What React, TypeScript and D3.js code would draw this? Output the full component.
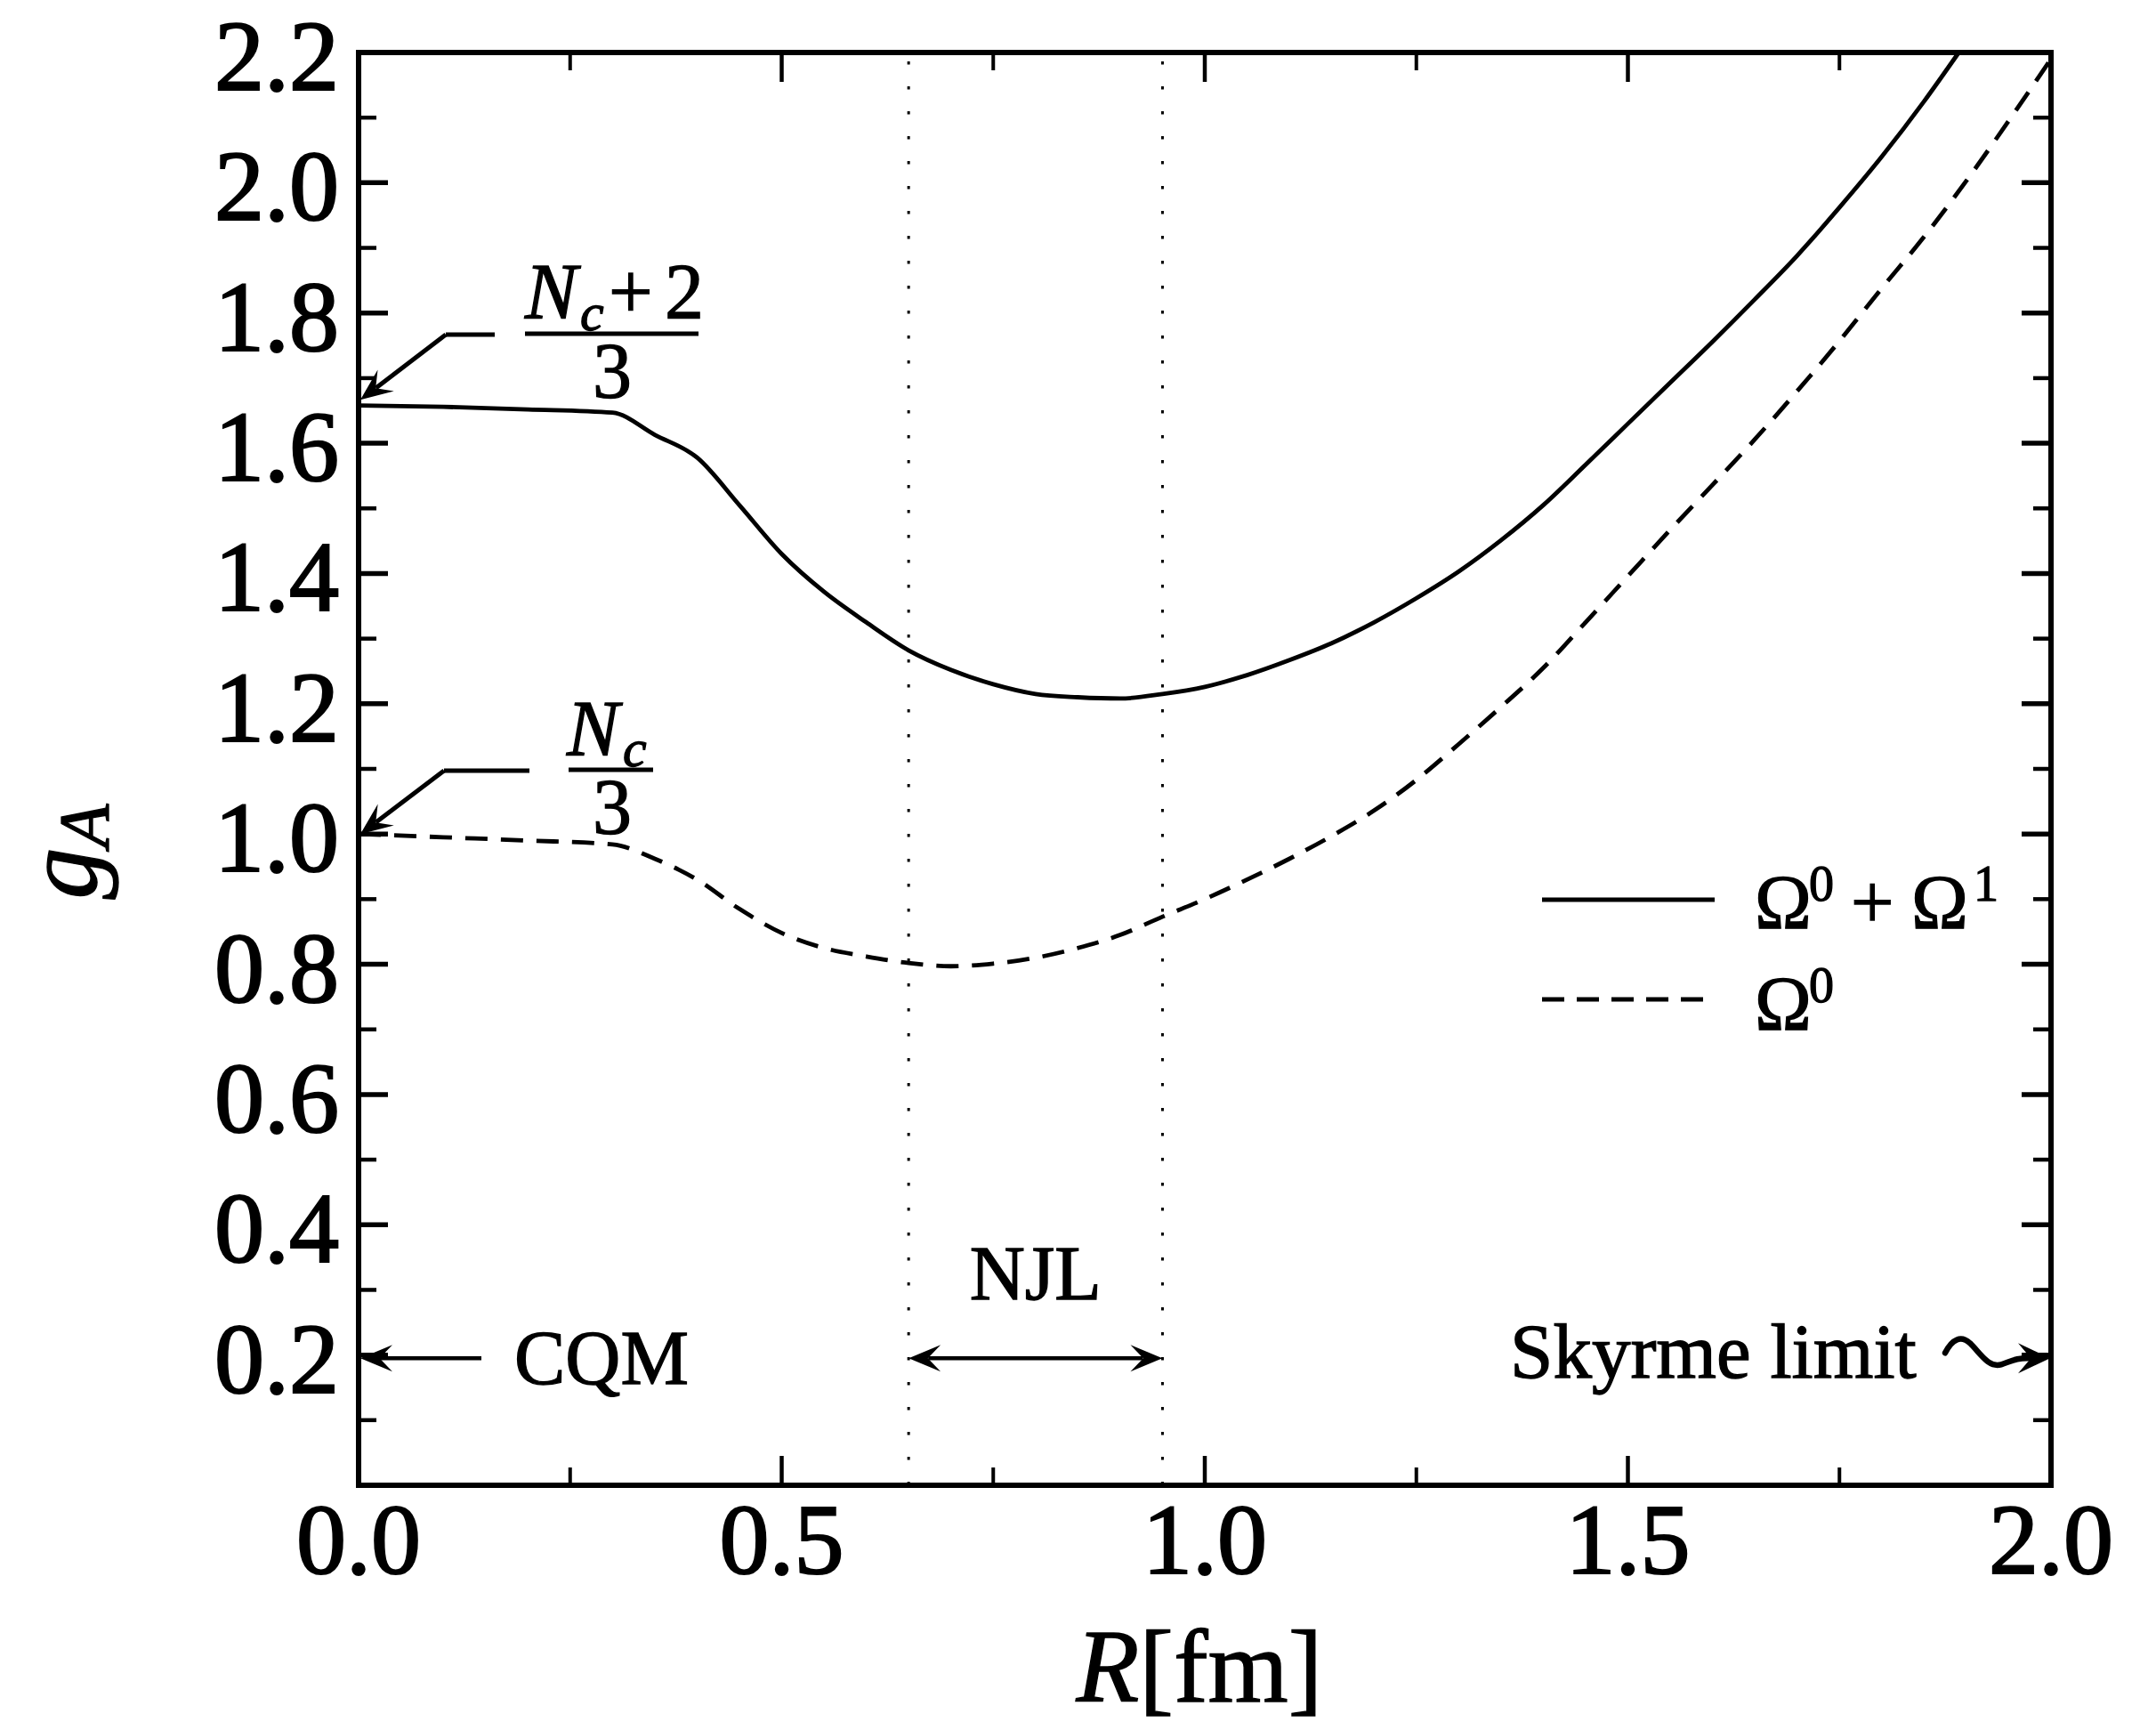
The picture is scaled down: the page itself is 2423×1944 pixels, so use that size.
import React from 'react';
import * as d3 from 'd3';

// ---- data ----
const R_FULL = [0, 0.1, 0.2, 0.3, 0.35, 0.4, 0.45, 0.5, 0.55, 0.6, 0.65, 0.7, 0.75, 0.8, 0.85, 0.9, 0.95, 1.0, 1.05, 1.1, 1.15, 1.2, 1.25, 1.3, 1.35, 1.4, 1.45, 1.5, 1.55, 1.6, 1.65, 1.7, 1.75, 1.8, 1.85, 1.891];
const GA_FULL = [1.658, 1.656, 1.652, 1.647, 1.613, 1.578, 1.505, 1.43, 1.372, 1.325, 1.282, 1.252, 1.23, 1.215, 1.21, 1.208, 1.215, 1.226, 1.244, 1.267, 1.293, 1.325, 1.362, 1.403, 1.451, 1.505, 1.567, 1.63, 1.693, 1.756, 1.821, 1.888, 1.962, 2.04, 2.125, 2.2];

const R_OMEGA0 = [0, 0.1, 0.2, 0.3, 0.35, 0.4, 0.45, 0.5, 0.55, 0.6, 0.65, 0.7, 0.75, 0.8, 0.85, 0.9, 0.95, 1.0, 1.05, 1.1, 1.15, 1.2, 1.25, 1.3, 1.35, 1.4, 1.45, 1.5, 1.55, 1.6, 1.65, 1.7, 1.75, 1.8, 1.85, 1.9, 1.95, 2.0];
const GA_OMEGA0 = [1.0, 0.995, 0.99, 0.984, 0.962, 0.93, 0.885, 0.848, 0.825, 0.812, 0.802, 0.797, 0.801, 0.81, 0.825, 0.845, 0.873, 0.9, 0.93, 0.962, 0.997, 1.036, 1.083, 1.138, 1.195, 1.255, 1.325, 1.396, 1.467, 1.536, 1.606, 1.68, 1.757, 1.838, 1.917, 2.003, 2.095, 2.19];

const X_MAJOR = [0, 0.5, 1.0, 1.5, 2.0];
const X_MINOR = [0.25, 0.75, 1.25, 1.75];
const X_LABELS = ['0.0', '0.5', '1.0', '1.5', '2.0'];
const Y_MAJOR = [0.2, 0.4, 0.6, 0.8, 1.0, 1.2, 1.4, 1.6, 1.8, 2.0, 2.2];
const Y_MINOR = [0.1, 0.3, 0.5, 0.7, 0.9, 1.1, 1.3, 1.5, 1.7, 1.9, 2.1];
const Y_LABELS = ['0.2', '0.4', '0.6', '0.8', '1.0', '1.2', '1.4', '1.6', '1.8', '2.0', '2.2'];

const NJL_BOUNDS = [0.65, 0.95];
const ARROW_LEVEL = 0.195;
const NC_PLUS2_OVER_3 = 5 / 3;
const NC_OVER_3 = 1.0;

const W = 2423;
const H = 1944;
const FONT = "'Liberation Serif', 'Times New Roman', serif";

function head(tx: number, ty: number, ang: number, L = 36, Wd = 15) {
  const c = Math.cos(ang), s = Math.sin(ang);
  const pt = (u: number, v: number) => `${tx + u * c - v * s},${ty + u * s + v * c}`;
  return `M${tx},${ty}L${pt(-L, -Wd)}L${pt(-0.6 * L, 0)}L${pt(-L, Wd)}Z`;
}

export default function App() {
  const x = d3.scaleLinear().domain([0, 2]).range([403, 2305]);
  const y = d3.scaleLinear().domain([0, 2.2]).range([1669, 59]);
  const line = d3
    .line<[number, number]>()
    .x((d) => x(d[0]))
    .y((d) => y(d[1]))
    .curve(d3.curveMonotoneX);

  const fullPts: [number, number][] = R_FULL.map((r, i) => [r, GA_FULL[i]]);
  const o0Pts: [number, number][] = R_OMEGA0.map((r, i) => [r, GA_OMEGA0[i]]);

  const x0 = x(0), x1 = x(2), yT = y(2.2), yB = y(0);
  const yArrow = y(ARROW_LEVEL);

  const l1 = { hx0: 501, hx1: 556, hy: 376 };
  const tip1 = [x(0) + 2, y(NC_PLUS2_OVER_3)];
  const ang1 = Math.atan2(tip1[1] - l1.hy, tip1[0] - l1.hx0);
  const l2 = { hx0: 499, hx1: 595, hy: 866 };
  const tip2 = [x(0) + 2, y(NC_OVER_3)];
  const ang2 = Math.atan2(tip2[1] - l2.hy, tip2[0] - l2.hx0);

  const majorLen = 33, minorLen = 20;
  const txtStroke = { stroke: '#000', strokeWidth: 1.3 };

  return (
    <svg
      width={W}
      height={H}
      viewBox={`0 0 ${W} ${H}`}
      style={{ position: 'absolute', left: 0, top: 0, background: '#fff', display: 'block' }}
    >
      <rect x={0} y={0} width={W} height={H} fill="#fff" />

      {/* dotted NJL bounds */}
      {NJL_BOUNDS.map((r) => (
        <line key={'d' + r} x1={x(r)} x2={x(r)} y1={yT + 10} y2={yB} stroke="#000" strokeWidth={3} strokeDasharray="3.5 24.5" />
      ))}

      {/* curves */}
      <path d={line(fullPts) || ''} fill="none" stroke="#000" strokeWidth={4.8} strokeLinejoin="round" />
      <path d={line(o0Pts) || ''} fill="none" stroke="#000" strokeWidth={4.8} strokeDasharray="25 15" />

      {/* ticks */}
      <g stroke="#000">
        {X_MAJOR.map((v) => (
          <g key={'xm' + v}>
            <line x1={x(v)} x2={x(v)} y1={yB} y2={yB - majorLen} strokeWidth={4.5} />
            <line x1={x(v)} x2={x(v)} y1={yT} y2={yT + majorLen} strokeWidth={4.5} />
          </g>
        ))}
        {X_MINOR.map((v) => (
          <g key={'xn' + v}>
            <line x1={x(v)} x2={x(v)} y1={yB} y2={yB - minorLen} strokeWidth={4} />
            <line x1={x(v)} x2={x(v)} y1={yT} y2={yT + minorLen} strokeWidth={4} />
          </g>
        ))}
        {Y_MAJOR.map((v) => (
          <g key={'ym' + v}>
            <line x1={x0} x2={x0 + majorLen} y1={y(v)} y2={y(v)} strokeWidth={5.5} />
            <line x1={x1} x2={x1 - majorLen} y1={y(v)} y2={y(v)} strokeWidth={5.5} />
          </g>
        ))}
        {Y_MINOR.map((v) => (
          <g key={'yn' + v}>
            <line x1={x0} x2={x0 + minorLen} y1={y(v)} y2={y(v)} strokeWidth={4.5} />
            <line x1={x1} x2={x1 - minorLen} y1={y(v)} y2={y(v)} strokeWidth={4.5} />
          </g>
        ))}
      </g>

      {/* frame */}
      <rect x={x0} y={yT} width={x1 - x0} height={yB - yT} fill="none" stroke="#000" strokeWidth={6} />

      {/* tick labels */}
      <g fontFamily={FONT} fontSize={112} fill="#000" stroke="#000" strokeWidth={2.2}>
        {X_MAJOR.map((v, i) => (
          <text key={'xl' + v} x={x(v)} y={1768} textAnchor="middle">
            {X_LABELS[i]}
          </text>
        ))}
        {Y_MAJOR.map((v, i) => (
          <text key={'yl' + v} x={381} y={y(v) + 42} textAnchor="end">
            {Y_LABELS[i]}
          </text>
        ))}
      </g>

      {/* axis titles */}
      <text x={1348} y={1912} textAnchor="middle" fontFamily={FONT} fontSize={116} fill="#000" {...txtStroke}>
        <tspan fontStyle="italic">R</tspan>
        <tspan>[fm]</tspan>
      </text>
      <text transform="translate(108,957) rotate(-90)" textAnchor="middle" fontFamily={FONT} fill="#000" {...txtStroke}>
        <tspan fontStyle="italic" fontSize={116}>g</tspan>
        <tspan fontStyle="italic" fontSize={80} dy={14}>A</tspan>
      </text>

      {/* fraction annotations */}
      <g stroke="#000" strokeWidth={5} fill="none">
        <line x1={l1.hx0} x2={l1.hx1} y1={l1.hy} y2={l1.hy} />
        <line x1={l1.hx0} y1={l1.hy} x2={tip1[0] - 22 * Math.cos(ang1)} y2={tip1[1] - 22 * Math.sin(ang1)} />
        <line x1={590} x2={785} y1={375} y2={375} />
        <line x1={l2.hx0} x2={l2.hx1} y1={l2.hy} y2={l2.hy} />
        <line x1={l2.hx0} y1={l2.hy} x2={tip2[0] - 22 * Math.cos(ang2)} y2={tip2[1] - 22 * Math.sin(ang2)} />
        <line x1={639} x2={734} y1={865} y2={865} />
      </g>
      <path d={head(tip1[0], tip1[1], ang1)} fill="#000" />
      <path d={head(tip2[0], tip2[1], ang2)} fill="#000" />
      <g fontFamily={FONT} fill="#000" {...txtStroke}>
        <text x={590} y={357} fontSize={88} fontStyle="italic">N</text>
        <text x={652} y={371} fontSize={60} fontStyle="italic">c</text>
        <text x={684} y={357} fontSize={88}>+</text>
        <text x={747} y={357} fontSize={88}>2</text>
        <text x={688} y={446} fontSize={88} textAnchor="middle">3</text>

        <text x={637} y={848} fontSize={88} fontStyle="italic">N</text>
        <text x={700} y={861} fontSize={60} fontStyle="italic">c</text>
        <text x={688} y={936} fontSize={88} textAnchor="middle">3</text>
      </g>

      {/* CQM */}
      <line x1={541} x2={x(0) + 22} y1={yArrow} y2={yArrow} stroke="#000" strokeWidth={4.5} />
      <path d={head(x(0) + 2, yArrow, Math.PI)} fill="#000" />
      <text x={578} y={yArrow + 29} fontFamily={FONT} fontSize={86} fill="#000" {...txtStroke}>CQM</text>

      {/* NJL */}
      <line x1={x(NJL_BOUNDS[0]) + 22} x2={x(NJL_BOUNDS[1]) - 22} y1={yArrow} y2={yArrow} stroke="#000" strokeWidth={4.5} />
      <path d={head(x(NJL_BOUNDS[0]), yArrow, Math.PI)} fill="#000" />
      <path d={head(x(NJL_BOUNDS[1]), yArrow, 0)} fill="#000" />
      <text x={(x(NJL_BOUNDS[0]) + x(NJL_BOUNDS[1])) / 2} y={1460} textAnchor="middle" fontFamily={FONT} fontSize={86} fill="#000" {...txtStroke}>NJL</text>

      {/* Skyrme limit */}
      <text x={1697} y={1548} fontFamily={FONT} fontSize={87} fill="#000" {...txtStroke}>Skyrme limit</text>
      <path
        d={`M2186,${yArrow - 6} C2194,${yArrow - 22} 2204,${yArrow - 26} 2214,${yArrow - 17} C2227,${yArrow - 4} 2235,${yArrow + 11} 2249,${yArrow + 7} C2259,${yArrow + 4} 2266,${yArrow - 1} 2282,${yArrow}`}
        fill="none"
        stroke="#000"
        strokeWidth={6.5}
        strokeLinecap="round"
      />
      <path d={head(x(2) - 1, yArrow, 0, 36, 17)} fill="#000" />

      {/* legend */}
      <line x1={1733} x2={1927} y1={1011} y2={1011} stroke="#000" strokeWidth={4.8} />
      <line x1={1733} x2={1916} y1={1123} y2={1123} stroke="#000" strokeWidth={4.8} strokeDasharray="25 14" />
      <g fontFamily={FONT} fill="#000" {...txtStroke}>
        <text x={1972} y={1043} fontSize={86}>Ω</text>
        <text x={2033} y={1012} fontSize={56}>0</text>
        <text x={2080} y={1043} fontSize={86}>+</text>
        <text x={2148} y={1043} fontSize={86}>Ω</text>
        <text x={2218} y={1012} fontSize={56}>1</text>

        <text x={1972} y={1157} fontSize={86}>Ω</text>
        <text x={2033} y={1126} fontSize={56}>0</text>
      </g>
    </svg>
  );
}
